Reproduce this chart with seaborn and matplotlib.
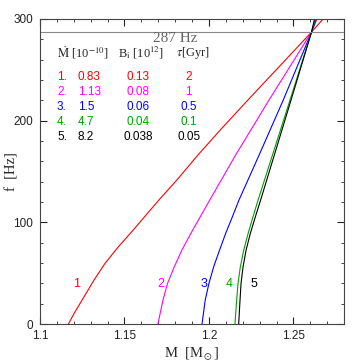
import numpy as np
import pandas as pd
import matplotlib
matplotlib.use('Agg')
import matplotlib.pyplot as plt
import seaborn as sns
from matplotlib.ticker import MultipleLocator

# curves f(M)
m1 = [1.1168, 1.1202, 1.1261, 1.1320, 1.1385, 1.1464, 1.1552, 1.1704, 1.1810, 1.1935, 1.2067, 1.2235, 1.2607, 1.2676]
f1 = [0, 10.5, 26.9, 43.3, 59.7, 76, 92.5, 122, 141.6, 166.2, 190.8, 221, 287, 300]
m2 = [1.1698, 1.1728, 1.1755, 1.1795, 1.1840, 1.1893, 1.1949, 1.2005, 1.2158, 1.2356, 1.2607, 1.2640]
f2 = [0, 23.6, 40, 56.4, 72.8, 89.2, 105.6, 122, 166.2, 220.3, 287, 300]
m3 = [1.1959, 1.1978, 1.2000, 1.2028, 1.2063, 1.2099, 1.2139, 1.2178, 1.2297, 1.2440, 1.2607, 1.2635]
f3 = [0, 23.6, 40, 56.4, 72.8, 89.2, 105.6, 122, 166.2, 220.3, 287, 300]
m4 = [1.2154, 1.2164, 1.2172, 1.2186, 1.2206, 1.2232, 1.2261, 1.2291, 1.2376, 1.2480, 1.2607, 1.2630]
f4 = [0, 23.6, 40, 56.4, 72.8, 89.2, 105.6, 122, 166.2, 220.3, 287, 300]
m5 = [1.2176, 1.2184, 1.2190, 1.2202, 1.2220, 1.2245, 1.2275, 1.2306, 1.2387, 1.2486, 1.2607, 1.2625]
f5 = [0, 23.6, 40, 56.4, 72.8, 89.2, 105.6, 122, 166.2, 220.3, 287, 300]

colors = ['#ff0000', '#ff00ff', '#0000ff', '#00a000', '#000000']
mdot = ['0.83', '1.13', '1.5', '4.7', '8.2']
bfield = ['0.13', '0.08', '0.06', '0.04', '0.038']
tau = ['2', '1', '0.5', '0.1', '0.05']
f_line = 287

rows = []
for i, (m, f) in enumerate([(m1, f1), (m2, f2), (m3, f3), (m4, f4), (m5, f5)]):
    rows.append(pd.DataFrame({'M': m, 'f': f, 'curve': str(i + 1)}))
df = pd.concat(rows)

sns.set_style('ticks')
plt.rcParams['font.family'] = ['Liberation Serif', 'DejaVu Serif']
plt.rcParams['mathtext.fontset'] = 'stix'
sans = ['Liberation Sans', 'DejaVu Sans']
fig = plt.figure(figsize=(3.63, 3.63), dpi=100)
ax = fig.add_axes([0.110, 0.107, 0.838, 0.841])

sns.lineplot(data=df, x='M', y='f', hue='curve', palette=colors, sort=False,
             estimator=None, lw=0.8, legend=False, ax=ax)
ax.axhline(f_line, color='#888888', lw=0.8)
ax.text(1.1799, 280.3, '287 Hz', color='#666666', ha='center', va='center', fontsize=11)

ax.set_xlim(1.1, 1.28)
ax.set_ylim(0, 300)
ax.set_xticks([1.1, 1.15, 1.2, 1.25])
ax.set_xticklabels(['1.1', '1.15', '1.2', '1.25'])
ax.set_yticks([0, 100, 200, 300])
ax.xaxis.set_minor_locator(MultipleLocator(0.01))
ax.yaxis.set_minor_locator(MultipleLocator(20))
ax.tick_params(which='both', direction='in', top=True, right=True, labelsize=8.5, colors='#222222')
ax.tick_params(axis='x', pad=4)
ax.tick_params(axis='y', pad=5)
ax.tick_params(which='major', length=5, width=0.8)
ax.tick_params(which='minor', length=2.5, width=0.6)
for lab in ax.get_xticklabels() + ax.get_yticklabels():
    lab.set_family(sans)
for s in ax.spines.values():
    s.set_linewidth(0.8)
    s.set_color('#444444')
ax.set_xlabel(r'M  [M$_\odot$]', fontsize=10.5)
ax.set_ylabel('f  [Hz]', fontsize=10.5)
ax.xaxis.set_label_coords(0.5, -0.068)
ax.yaxis.set_label_coords(-0.072, 0.5)

# table
fs = 8.5
ax.text(1.1101, 266.5, r'$\dot{\rm M}$ [10$^{-10}$]', fontsize=9, va='center')
ax.text(1.1464, 266.5, r'B$_{\rm i}$ [10$^{12}$]', fontsize=9, va='center')
ax.text(1.1805, 266.5, r'$\tau$[Gyr]', fontsize=9, va='center')
row_y = [243, 228, 213.4, 198.7, 184]
for i in range(5):
    ax.text(1.1101, row_y[i], f'{i + 1}.', color=colors[i], fontsize=fs, va='center', family=sans)
    ax.text(1.1225, row_y[i], mdot[i], color=colors[i], fontsize=fs, va='center', family=sans)
    ax.text(1.1581, row_y[i], bfield[i], color=colors[i], fontsize=fs, va='center', ha='center', family=sans)
    ax.text(1.1880, row_y[i], tau[i], color=colors[i], fontsize=fs, va='center', ha='center', family=sans)

# curve numbers
lab_x = [1.1218, 1.1717, 1.1968, 1.2119, 1.2269]
for i in range(5):
    ax.text(lab_x[i], 39, str(i + 1), color=colors[i], fontsize=9, ha='center', va='center', family=sans)

fig.savefig('out.png', dpi=100)
